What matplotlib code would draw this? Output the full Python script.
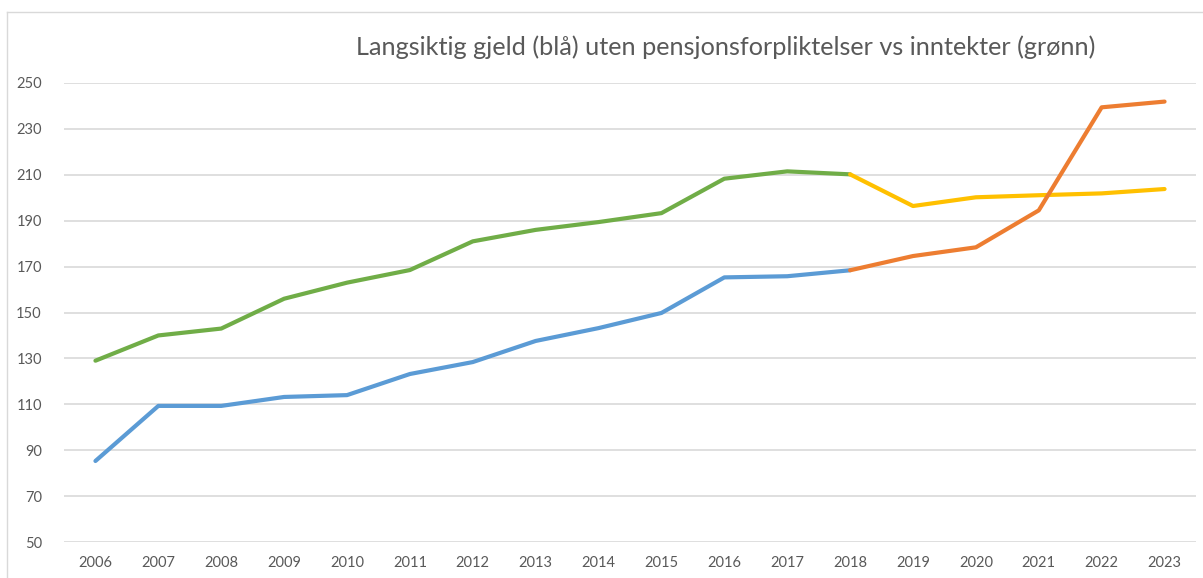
import matplotlib
matplotlib.use("Agg")
import matplotlib.pyplot as plt
from matplotlib.lines import Line2D

years = [str(y) for y in range(2006, 2024)]
# Green (revenue) 2006-2018, yellow continuation 2018-2023
green_vals = [129, 140, 143, 156, 163, 168.5, 181, 186, 189.4, 193.3, 208.3, 211.5, 210.2]
yellow_vals = [210.2, 196.4, 200.2, 201.1, 201.9, 203.8]
# Blue (debt) 2006-2018, orange continuation 2018-2023
blue_vals = [85.3, 109.3, 109.3, 113.2, 114, 123.2, 128.4, 137.6, 143.2, 149.8, 165.3, 165.8, 168.4]
orange_vals = [168.4, 174.6, 178.4, 194.5, 239.4, 241.9]
yticks = [50, 70, 90, 110, 130, 150, 170, 190, 210, 230, 250]
title = "Langsiktig gjeld (blå) uten pensjonsforpliktelser vs inntekter (grønn)"

plt.rcParams['font.family'] = ['Lato', 'DejaVu Sans']

W, H = 1203, 578
fig = plt.figure(figsize=(W / 100, H / 100), dpi=100)
ax = fig.add_axes([64 / W, (H - 542) / H, (1196 - 64) / W, (542 - 83) / H])

x = list(range(len(years)))
lw = 3.0
ax.plot(x[:13], green_vals, color='#70AD47', lw=lw, solid_capstyle='round', zorder=3)
ax.plot(x[12:], yellow_vals, color='#FFC000', lw=lw, solid_capstyle='round', zorder=3)
ax.plot(x[:13], blue_vals, color='#5B9BD5', lw=lw, solid_capstyle='round', zorder=3)
ax.plot(x[12:], orange_vals, color='#ED7D31', lw=lw, solid_capstyle='round', zorder=4)

ax.set_xlim(-0.5, len(years) - 0.5)
ax.set_ylim(50, 250)
ax.set_yticks(yticks)
ax.set_xticks(x)
ax.set_xticklabels(years)
ax.grid(axis='y', color='#D9D9D9', lw=1.2, zorder=0)
for s in ax.spines.values():
    s.set_visible(False)
ax.tick_params(axis='both', length=0, colors='#595959', labelsize=10.5)
ax.tick_params(axis='y', pad=16)
ax.tick_params(axis='x', pad=10)

fig.text(726 / W, (H - 47) / H, title, ha='center', va='center',
         fontsize=18.2, color='#595959')

# chart frame
fig.add_artist(Line2D([7 / W, 7 / W], [0, (H - 12) / H], transform=fig.transFigure,
                      color='#D9D9D9', lw=1))
fig.add_artist(Line2D([7 / W, 1], [(H - 12) / H, (H - 12) / H], transform=fig.transFigure,
                      color='#D9D9D9', lw=1))

fig.savefig('out.png', dpi=100)
